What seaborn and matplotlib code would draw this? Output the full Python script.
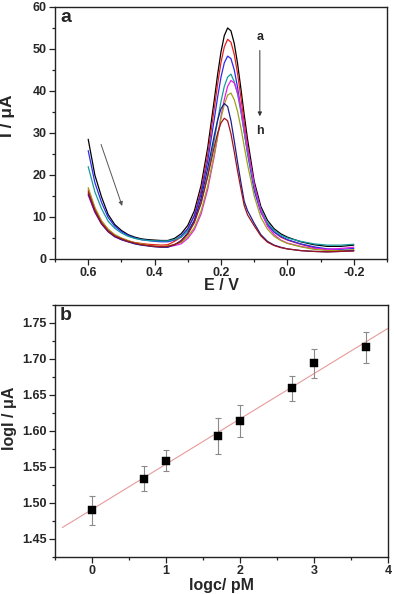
import numpy as np
import pandas as pd
import matplotlib
matplotlib.use("Agg")
import matplotlib.pyplot as plt
from matplotlib.ticker import MultipleLocator, FormatStrFormatter
import seaborn as sns

# ---- panel a: DPV curves (E in V, I in uA) ----
potential = [0.60, 0.58, 0.56, 0.54, 0.52, 0.50, 0.48, 0.46, 0.44, 0.42,
             0.40, 0.38, 0.36, 0.34, 0.32, 0.30, 0.28, 0.26, 0.24, 0.22,
             0.21, 0.20, 0.19, 0.18, 0.17, 0.16, 0.15, 0.14, 0.13, 0.12,
             0.10, 0.08, 0.06, 0.04, 0.02, 0.00, -0.04, -0.08, -0.12, -0.16,
             -0.20]

curve_a = [28.5, 20.0, 14.8, 10.6, 8.2, 6.8, 5.8, 5.2, 4.8, 4.6,
           4.5, 4.4, 4.4, 4.9, 6.0, 8.0, 11.5, 17.5, 26.5, 38.0,
           44.0, 49.3, 53.2, 55.0, 54.3, 51.3, 46.5, 40.5, 34.3, 28.5,
           18.5, 12.5, 9.2, 7.2, 6.0, 5.2, 4.1, 3.4, 3.0, 3.0,
           3.3]
curve_b = [16.5, 12.0, 9.0, 7.0, 5.7, 4.9, 4.3, 3.9, 3.7, 3.5,
           3.4, 3.3, 3.4, 4.2, 5.2, 7.2, 10.5, 16.3, 24.9, 36.0,
           41.7, 46.8, 50.5, 52.3, 51.6, 48.7, 44.1, 38.4, 32.4, 26.8,
           17.2, 11.5, 8.3, 6.4, 5.2, 4.5, 3.5, 2.7, 2.2, 2.0,
           2.0]
curve_c = [25.8, 18.2, 13.5, 9.9, 7.8, 6.5, 5.6, 5.0, 4.6, 4.4,
           4.2, 4.1, 4.1, 4.5, 5.5, 7.2, 10.3, 15.5, 23.3, 33.4,
           38.6, 43.3, 46.7, 48.3, 47.7, 45.0, 40.8, 35.6, 30.2, 25.1,
           16.3, 11.1, 8.2, 6.4, 5.4, 4.6, 3.6, 2.9, 2.4, 2.3,
           2.5]
curve_d = [22.0, 16.0, 12.0, 9.0, 7.3, 6.2, 5.4, 4.9, 4.6, 4.4,
           4.3, 4.3, 4.3, 4.6, 5.2, 6.7, 9.1, 13.3, 19.9, 28.4,
           33.0, 37.5, 41.1, 43.3, 44.0, 42.2, 39.2, 35.0, 30.2, 25.4,
           17.3, 11.8, 8.6, 6.8, 5.7, 5.0, 4.2, 3.6, 3.3, 3.3,
           3.5]
curve_e = [15.2, 11.1, 8.3, 6.5, 5.3, 4.6, 4.1, 3.7, 3.4, 3.2,
           3.0, 2.9, 2.9, 3.2, 3.6, 4.9, 7.0, 10.7, 16.6, 24.6,
           29.2, 33.9, 38.0, 41.1, 42.5, 41.9, 39.6, 35.8, 31.1, 26.3,
           17.8, 11.5, 7.8, 5.8, 4.5, 3.8, 3.0, 2.5, 2.3, 2.5,
           2.8]
curve_f = [17.0, 12.3, 9.1, 7.1, 5.8, 5.0, 4.4, 3.9, 3.6, 3.3,
           3.1, 3.0, 3.1, 3.5, 3.9, 5.3, 7.5, 11.4, 17.4, 25.1,
           29.4, 33.5, 36.8, 39.0, 39.5, 37.9, 35.1, 31.2, 26.8, 22.5,
           15.0, 9.9, 7.1, 5.4, 4.4, 3.7, 2.9, 2.3, 2.0, 2.0,
           2.2]
curve_g = [15.5, 11.3, 8.4, 6.5, 5.3, 4.6, 4.1, 3.6, 3.3, 3.1,
           2.9, 2.8, 2.8, 3.4, 4.4, 6.2, 9.3, 14.4, 21.6, 29.5,
           33.1, 35.8, 37.0, 36.3, 32.9, 28.1, 23.0, 18.2, 13.7, 11.5,
           8.5, 5.8, 4.2, 3.3, 2.8, 2.4, 2.0, 1.8, 1.7, 1.8,
           2.0]
curve_h = [16.0, 11.6, 8.6, 6.7, 5.5, 4.8, 4.2, 3.8, 3.4, 3.2,
           3.0, 2.9, 3.0, 3.4, 4.2, 5.9, 8.7, 13.3, 19.7, 26.8,
           30.0, 32.4, 33.5, 32.9, 29.8, 25.5, 20.9, 16.7, 12.7, 10.5,
           7.9, 5.5, 4.0, 3.2, 2.7, 2.4, 2.0, 1.8, 1.7, 1.8,
           1.9]

curve_names = ["a", "b", "c", "d", "e", "f", "g", "h"]
curve_colors = ["#000000", "#ee1c1c", "#2a2af0", "#169c9c",
                "#e81ee8", "#a0a01e", "#1e1e8c", "#a0141e"]

# ---- panel b: calibration ----
log_c = [0, 0.7, 1.0, 1.7, 2.0, 2.7, 3.0, 3.7]
log_i = [1.490, 1.534, 1.559, 1.593, 1.614, 1.659, 1.694, 1.716]
log_i_err = [0.020, 0.018, 0.015, 0.025, 0.022, 0.018, 0.020, 0.022]
fit_range = [-0.4, 4.0]


def style_axis(ax):
    for sp in ax.spines.values():
        sp.set_visible(True)
        sp.set_linewidth(1.0)
        sp.set_color("#222222")
    ax.tick_params(which="both", direction="out", top=False, right=False,
                   width=0.9, color="#222222")
    ax.tick_params(which="major", length=4, labelsize=9, pad=2)
    ax.tick_params(which="minor", length=2.2)
    for lab in ax.get_xticklabels() + ax.get_yticklabels():
        lab.set_fontweight("bold")


def main():
    sns.set_style("ticks")
    plt.rcParams["font.family"] = ["Liberation Sans", "DejaVu Sans"]
    plt.rcParams["axes.unicode_minus"] = False

    fig = plt.figure(figsize=(3.94, 5.94), dpi=100)
    ax1 = fig.add_axes([0.1396, 0.564, 0.8426, 0.4243])
    ax2 = fig.add_axes([0.1396, 0.0623, 0.8452, 0.4243])

    # panel a
    curves = [curve_a, curve_b, curve_c, curve_d,
              curve_e, curve_f, curve_g, curve_h]
    frames = []
    for name, vals in zip(curve_names, curves):
        frames.append(pd.DataFrame({"E": potential, "I": vals, "curve": name}))
    dpv = pd.concat(frames, ignore_index=True)
    sns.lineplot(data=dpv, x="E", y="I", hue="curve", palette=curve_colors,
                 hue_order=curve_names, estimator=None, sort=False,
                 linewidth=0.9, legend=False, ax=ax1)

    ax1.set_xlim(0.7, -0.3)
    ax1.set_ylim(0, 60)
    ax1.xaxis.set_major_locator(MultipleLocator(0.2))
    ax1.xaxis.set_minor_locator(MultipleLocator(0.1))
    ax1.xaxis.set_major_formatter(FormatStrFormatter("%.1f"))
    ax1.yaxis.set_major_locator(MultipleLocator(10))
    ax1.yaxis.set_minor_locator(MultipleLocator(5))
    ax1.set_xlabel("E / V", fontsize=11.5, fontweight="bold")
    ax1.set_ylabel("I / μA", fontsize=12.5, fontweight="bold")
    ax1.xaxis.set_label_coords(0.5, -0.075)
    ax1.yaxis.set_label_coords(-0.12, 0.57)
    style_axis(ax1)

    ax1.text(0.015, 0.99, "a", transform=ax1.transAxes, ha="left", va="top",
             fontsize=14, fontweight="bold")
    ax1.text(0.083, 52.9, "a", ha="center", va="center", fontsize=9,
             fontweight="bold")
    ax1.text(0.083, 30.5, "h", ha="center", va="center", fontsize=9,
             fontweight="bold")
    ax1.annotate("", xy=(0.083, 33.3), xytext=(0.083, 50.3),
                 arrowprops=dict(arrowstyle="-|>", color="#333333", lw=0.7,
                                 mutation_scale=6))
    ax1.annotate("", xy=(0.495, 12.0), xytext=(0.564, 27.9),
                 arrowprops=dict(arrowstyle="-|>", color="#555555", lw=0.7,
                                 mutation_scale=6))

    # panel b
    slope, intercept = np.polyfit(log_c, log_i, 1)
    fit_x = np.array(fit_range)
    ax2.plot(fit_x, slope * fit_x + intercept, color="#e89a9a", lw=0.8,
             zorder=1)
    ax2.errorbar(log_c, log_i, yerr=log_i_err, fmt="none", ecolor="#8a8a8a",
                 elinewidth=0.8, capsize=2.5, capthick=0.8, zorder=2)
    sns.scatterplot(x=log_c, y=log_i, marker="s", s=26, color="black",
                    edgecolor="black", linewidth=0.3, zorder=3, ax=ax2)

    ax2.set_xlim(-0.5, 4.0)
    ax2.set_ylim(1.425, 1.775)
    ax2.xaxis.set_major_locator(MultipleLocator(1))
    ax2.xaxis.set_minor_locator(MultipleLocator(0.5))
    ax2.yaxis.set_major_locator(MultipleLocator(0.05))
    ax2.yaxis.set_minor_locator(MultipleLocator(0.025))
    ax2.yaxis.set_major_formatter(FormatStrFormatter("%.2f"))
    ax2.set_xlabel("logc/ pM", fontsize=11.5, fontweight="bold")
    ax2.set_ylabel("logI / μA", fontsize=11.5, fontweight="bold")
    ax2.xaxis.set_label_coords(0.5, -0.085)
    ax2.yaxis.set_label_coords(-0.115, 0.55)
    style_axis(ax2)

    ax2.text(0.015, 0.99, "b", transform=ax2.transAxes, ha="left", va="top",
             fontsize=14, fontweight="bold")

    fig.savefig("out.png", dpi=100)


if __name__ == "__main__":
    main()
